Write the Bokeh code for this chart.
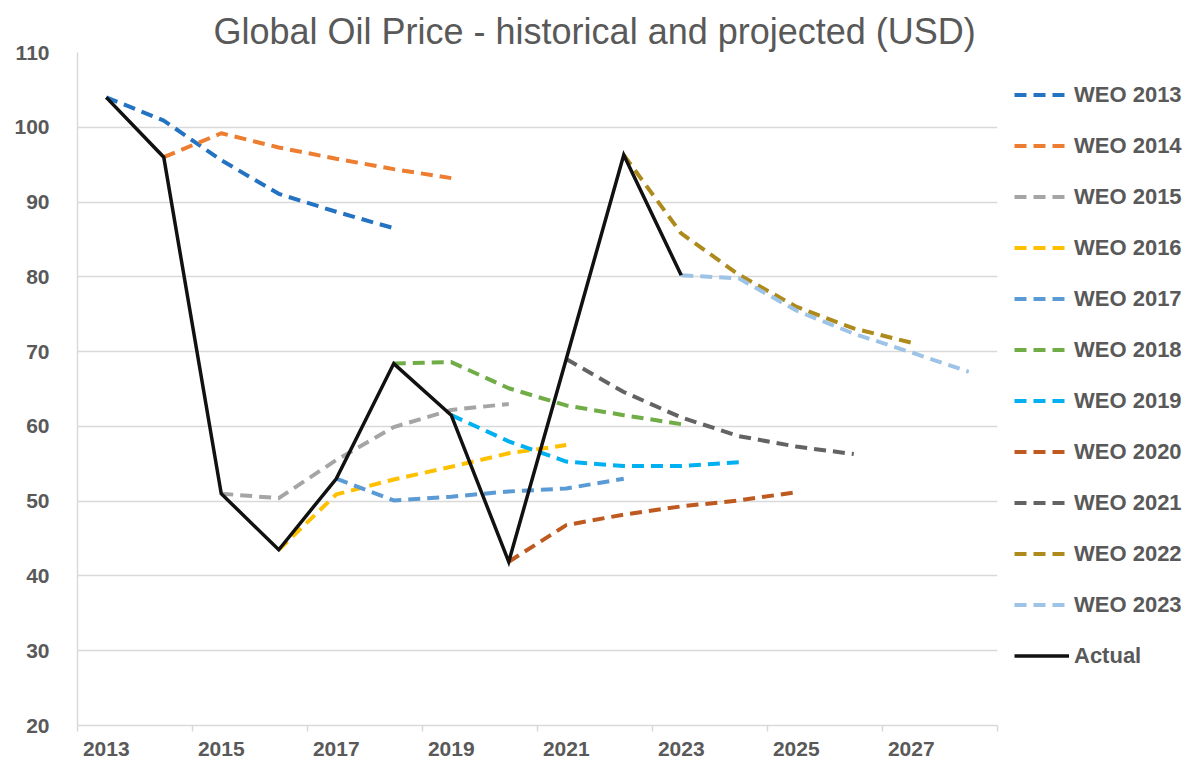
from bokeh.plotting import figure
from bokeh.models import FixedTicker, Legend, LegendItem, Range1d
from bokeh.embed import file_html
from bokeh.resources import INLINE

# ---- data ----
category_years = list(range(2013, 2029))
tick_years = [2013, 2015, 2017, 2019, 2021, 2023, 2025, 2027]

actual_years = list(range(2013, 2024))
actual_values = [104.0, 96.0, 51.0, 43.5, 53.0, 68.4, 61.5, 41.9, 69.0, 96.3, 80.2]

weo_names = ["WEO 2013", "WEO 2014", "WEO 2015", "WEO 2016", "WEO 2017", "WEO 2018",
             "WEO 2019", "WEO 2020", "WEO 2021", "WEO 2022", "WEO 2023"]
weo_start_years = [2013, 2014, 2015, 2016, 2017, 2018, 2019, 2020, 2021, 2022, 2023]
weo_2013 = [104.0, 100.9, 95.6, 91.1, 88.7, 86.5]
weo_2014 = [96.0, 99.2, 97.3, 95.8, 94.4, 93.2]
weo_2015 = [51.0, 50.4, 55.5, 59.9, 62.2, 63.0]
weo_2016 = [43.5, 50.9, 52.9, 54.6, 56.4, 57.5]
weo_2017 = [53.0, 50.1, 50.6, 51.3, 51.7, 53.0]
weo_2018 = [68.4, 68.6, 65.1, 62.8, 61.5, 60.3]
weo_2019 = [61.5, 58.0, 55.3, 54.7, 54.7, 55.2]
weo_2020 = [41.9, 46.8, 48.2, 49.3, 50.1, 51.2]
weo_2021 = [69.0, 64.6, 61.2, 58.7, 57.3, 56.3]
weo_2022 = [96.3, 85.8, 80.3, 76.0, 73.1, 71.2]
weo_2023 = [80.2, 79.8, 75.5, 72.4, 69.9, 67.3]
weo_values = [weo_2013, weo_2014, weo_2015, weo_2016, weo_2017, weo_2018,
              weo_2019, weo_2020, weo_2021, weo_2022, weo_2023]

weo_colors = ["#2473C2", "#ED7D31", "#A5A5A5", "#FFC000", "#5B9BD5", "#70AD47",
              "#00B0F0", "#BE5A1F", "#636363", "#AE8A1C", "#9DC3E6"]

TXT = "#595959"
GRID = "#d9d9d9"

p = figure(frame_width=920, frame_height=673, output_backend="svg", toolbar_location=None,
           min_border_left=77, min_border_right=198, min_border_top=52, min_border_bottom=28,
           x_range=Range1d(category_years[0] - 0.5, category_years[-1] + 0.5),
           y_range=Range1d(20, 110))

p.title.text = "Global Oil Price - historical and projected (USD)"
p.title.text_font = "Liberation Sans"
p.title.text_font_size = "36px"
p.title.text_font_style = "normal"
p.title.text_color = TXT
p.title.align = "left"
p.title.offset = 136
p.title.standoff = 2

p.outline_line_color = None
p.xgrid.grid_line_color = None
p.ygrid.grid_line_color = GRID
p.ygrid.grid_line_width = 1.5

minor = [y - 0.5 for y in tick_years] + [category_years[-1] + 0.5]
p.xaxis.ticker = FixedTicker(ticks=tick_years, minor_ticks=minor)
p.xaxis.major_tick_line_color = None
p.xaxis.major_tick_out = 0
p.xaxis.major_tick_in = 0
p.xaxis.minor_tick_line_color = GRID
p.xaxis.minor_tick_line_width = 1.5
p.xaxis.minor_tick_out = 6
p.xaxis.minor_tick_in = 0
p.xaxis.axis_line_color = GRID
p.xaxis.axis_line_width = 1.5
p.xaxis.major_label_standoff = 10

p.yaxis.ticker = FixedTicker(ticks=list(range(20, 111, 10)))
p.yaxis.major_tick_line_color = None
p.yaxis.minor_tick_line_color = None
p.yaxis.axis_line_color = GRID
p.yaxis.axis_line_width = 1.5
p.yaxis.major_label_standoff = 22

for ax in (p.xaxis, p.yaxis):
    ax.major_label_text_font = "Liberation Sans"
    ax.major_label_text_font_size = "21px"
    ax.major_label_text_font_style = "bold"
    ax.major_label_text_color = TXT

items = []
for name, start, vals, col in zip(weo_names, weo_start_years, weo_values, weo_colors):
    xs = [start + i for i in range(len(vals))]
    r = p.line(xs, vals, line_color=col, line_width=4, line_dash="12 7")
    items.append(LegendItem(label=name, renderers=[r]))

ra = p.line(actual_years, actual_values, line_color="#111111", line_width=3.5, line_join="miter")
items.append(LegendItem(label="Actual", renderers=[ra]))

legend = Legend(items=items, location="top_left", orientation="vertical",
                margin=17, padding=0, spacing=0,
                glyph_width=55, glyph_height=51, label_height=51, label_standoff=5,
                label_text_font="Liberation Sans", label_text_font_size="22px",
                label_text_font_style="bold", label_text_color=TXT,
                border_line_color=None, background_fill_alpha=0)
p.add_layout(legend, "right")

open("out.html", "w").write(file_html(p, INLINE))
